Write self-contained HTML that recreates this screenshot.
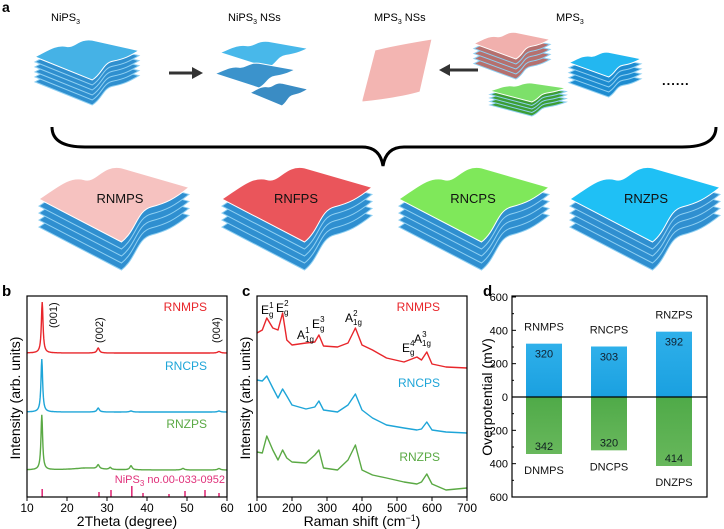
<!DOCTYPE html>
<html><head><meta charset="utf-8">
<style>
html,body{margin:0;padding:0;background:#fff;}
svg{display:block;font-family:"Liberation Sans",Arial,sans-serif;}
</style></head>
<body>
<svg id="fig" width="724" height="529" viewBox="0 0 724 529" xmlns="http://www.w3.org/2000/svg">
<defs>
  <linearGradient id="gBlue" x1="0" y1="0" x2="0" y2="1"><stop offset="0" stop-color="#2fb0ea"/><stop offset="1" stop-color="#1aa0e0"/></linearGradient>
  <linearGradient id="gGreen" x1="0" y1="0" x2="0" y2="1"><stop offset="0" stop-color="#4faa48"/><stop offset="1" stop-color="#68b85c"/></linearGradient>
</defs>
<g id="panelA"></g>
<text x="2" y="12" font-weight="bold" font-size="14">a</text>
<text x="51" y="21" font-size="11">NiPS<tspan font-size="7" dy="3">3</tspan></text>
<text x="228" y="21" font-size="11">NiPS<tspan font-size="7" dy="3">3</tspan><tspan dy="-3"> NSs</tspan></text>
<text x="374" y="21" font-size="11">MPS<tspan font-size="7" dy="3">3</tspan><tspan dy="-3"> NSs</tspan></text>
<text x="556" y="21" font-size="11">MPS<tspan font-size="7" dy="3">3</tspan></text>
<text x="662" y="85" font-size="13" font-weight="bold" letter-spacing="1">......</text>
<g><line x1="169" y1="73" x2="194" y2="73" stroke="#333" stroke-width="3"/><polygon points="192,67 203,73 192,79" fill="#333"/></g>
<g><line x1="478" y1="70" x2="448" y2="70" stroke="#333" stroke-width="3"/><polygon points="450,64 439,70 450,76" fill="#333"/></g>
<path d="M52,127 Q52,147 85,147 L362,147 Q380,147 383,166 Q386,147 404,147 L682,147 Q716,147 716,127" fill="none" stroke="#000" stroke-width="3"/>

<g id="panelB"></g>
<g id="panelC"></g>
<g id="panelD"></g>
</svg>
<script>
const NS="http://www.w3.org/2000/svg";
function mk(tag,attrs,parent){const e=document.createElementNS(NS,tag);for(const k in attrs)e.setAttribute(k,attrs[k]);if(parent)parent.appendChild(e);return e;}
function txt(parent,x,y,s,size,fill,anchor,extra){const t=mk('text',{x:x,y:y,'font-size':size,fill:fill||'#000','text-anchor':anchor||'start'},parent);if(extra)for(const k in extra)t.setAttribute(k,extra[k]);t.textContent=s;return t;}

/* ---------- Panel a: sheet stacks ---------- */
const A=document.getElementById('panelA');
function sheetPath(w,h){
  return `M0,${h*0.45} C${w*0.12},${h*0.3} ${w*0.2},${h*0.15} ${w*0.3},${h*0.2} C${w*0.38},${h*0.25} ${w*0.42},0 ${w*0.55},${h*0.05} L${w},${h*0.3} C${w*0.9},${h*0.45} ${w*0.85},${h*0.5} ${w*0.75},${h*0.55} C${w*0.65},${h*0.6} ${w*0.65},${h*0.85} ${w*0.55},${h} Z`;
}
function stack(x,y,w,h,n,gap,topColor,layerColor,name){
  const g=mk('g',{transform:`translate(${x},${y})`},A);
  
  
  for(let i=n-1;i>=0;i--){
    mk('path',{d:sheetPath(w,h),transform:`translate(0,${i*gap})`,fill:i===0?topColor:layerColor,stroke:i===0?'#ffffff':'#8fd0f2','stroke-width':1},g);
  }
  return g;
}
stack(35,38,104,42,6,5,'#45b2e6','#2f8fcf','stack-nips3');
stack(220,40,88,28,1,5,'#48b8ea','#2f8fcf','nanosheet-nips3-a');
stack(215,62,80,26,1,5,'#3b93cc','#2f8fcf','nanosheet-nips3-b');
stack(250,82,58,24,1,5,'#3a8cc4','#2f8fcf','nanosheet-nips3-c');
mk('path',{d:'M362,100 L375,50 Q395,45 432,39 L420,92 Q400,98 362,102 Z',fill:'#f3b5b2',stroke:'#fff','stroke-width':1},A);
stack(474,31,76,28,5,5,'#f1b0ad','#b5706e','stack-mps3-pink');
stack(490,82,76,20,5,3.5,'#7de06a','#3d9e35','stack-mps3-green');
stack(569,51,72,26,5,5,'#23b7f0','#1e8cd0','stack-mps3-blue');
const bottom=[[39,'#f6c2c0','stack-rnmps'],[222,'#ea555b','stack-rnfps'],[399,'#7fe85a','stack-rncps'],[570,'#1fc0f5','stack-rnzps']];
bottom.forEach(b=>stack(b[0],164,150,78,5,7,b[1],'#2f8fd0',b[2]));
[['RNMPS',120,'label-rnmps'],['RNFPS',296,'label-rnfps'],['RNCPS',473,'label-rncps'],['RNZPS',646,'label-rnzps']].forEach(l=>{
  const t=txt(A,l[1],203,l[0],13,'#111','middle');
  
  
});

/* ---------- Panel b: XRD ---------- */
const xrdSamples=['RNMPS','RNCPS','RNZPS'];
const xrdColors=['#e8262b','#1ea5d8','#5aa944'];
const xrdBaselinePx=[353,412,470];
const xrdPeakPos=[[13.8,27.8,58],[13.7,27.8,36,58],[13.7,25,27.8,30.8,36,49,58]];
const xrdPeakInt=[[51,5,1.5],[53,4,1,1],[55,2,4,2,4,1.5,1.5]];
const xrdPeakWid=[[0.25,0.35,0.4],[0.25,0.35,0.4,0.4],[0.25,4,0.35,0.3,0.35,0.4,0.4]];
const refPos=[13.8,28,31,36.2,39,45.5,49.5,54.5,58];
const refInt=[8,5,7,11,4,3,6,7,4];
const xrdTicks=[10,20,30,40,50,60];
const B=document.getElementById('panelB');
const bx=v=>27+(v-10)*(200/50);
xrdSamples.forEach((s,si)=>{
  let d='';
  for(let x=10;x<=60;x+=0.1){
    let yv=0;xrdPeakPos[si].forEach((p,k)=>{const w=xrdPeakWid[si][k];yv+=xrdPeakInt[si][k]/(1+((x-p)/w)**2);});
    d+=(d?'L':'M')+bx(x).toFixed(1)+','+(xrdBaselinePx[si]-yv).toFixed(1);
  }
  const p=mk('path',{d:d,fill:'none',stroke:xrdColors[si],'stroke-width':1.4},B);
  
  
  const t=txt(B,207,xrdBaselinePx[si]-42,s,12,xrdColors[si],'end');
  
  
});
refPos.forEach((p,i)=>{
  const l=mk('line',{x1:bx(p),x2:bx(p),y1:497,y2:497-refInt[i],stroke:'#e0307a','stroke-width':1.6},B);
  
  
});
{const t=txt(B,225,483,'',11,'#e0307a','end');t.innerHTML='NiPS<tspan font-size="8" dy="3">3</tspan><tspan dy="-3"> no.00-033-0952</tspan>';}
[['(001)',57,328],['(002)',103,343],['(004)',220,343]].forEach(a=>{
  const t=txt(B,a[1],a[2],a[0],11,'#111','start',{transform:`rotate(-90 ${a[1]} ${a[2]})`});
  
  
});
mk('rect',{x:27,y:296,width:200,height:201,fill:'none',stroke:'#000','stroke-width':1.2},B);
xrdTicks.forEach(v=>{
  mk('line',{x1:bx(v),x2:bx(v),y1:497,y2:501,stroke:'#000'},B);
  const t=txt(B,bx(v),512,String(v),12,'#000','middle');
  
  
});
{const t=txt(B,127,526,'2Theta (degree)',14,'#000','middle');
 const y=txt(B,20,398,'Intensity (arb. units)',14,'#000','middle',{transform:'rotate(-90 20 398)'});
 const l=txt(B,2,296,'b',15,'#000','start',{'font-weight':'bold'});}

/* ---------- Panel c: Raman ---------- */
const ramanSamples=['RNMPS','RNCPS','RNZPS'];
const ramanShift=[100,115,128,145,160,173,185,200,240,265,277,290,330,360,381,400,430,470,520,557,570,585,600,640,700];
const ramanRNMPS=[333,330,318,328,330,313,340,345,343,342,335,346,347,343,328,345,350,358,362,357,360,352,364,367,368];
const ramanRNCPS=[380,381,376,388,398,389,396,405,409,407,401,410,412,405,394,410,418,425,428,430,429,422,430,432,433];
const ramanRNZPS=[452,453,436,450,460,450,458,462,463,455,450,468,470,460,445,470,475,478,482,484,482,474,484,490,488];
const ramanColors=['#e8262b','#1ea5d8','#5aa944'];
const C=document.getElementById('panelC');
const cx=v=>257+(v-100)*(210/600);
[ramanRNMPS,ramanRNCPS,ramanRNZPS].forEach((arr,si)=>{
  const d=arr.map((y,i)=>(i?'L':'M')+cx(ramanShift[i]).toFixed(1)+','+y).join('');
  const p=mk('path',{d:d,fill:'none',stroke:ramanColors[si],'stroke-width':1.4,'stroke-linejoin':'round'},C);
  
  
});
[[440,311,'RNMPS'],[440,387,'RNCPS'],[440,461,'RNZPS']].forEach((l,i)=>{
  const t=txt(C,l[0],l[1],l[2],12,ramanColors[i],'end');
  
  
});
[['E','g','1',261,314],['E','g','2',276,312],['A','1g','1',297,339],['E','g','3',312,328],['A','1g','2',345,322],['E','g','4',402,352],['A','1g','3',414,343]].forEach(m=>{
  const t=mk('text',{x:m[3],y:m[4],'font-size':12},C);
  t.innerHTML=`${m[0]}<tspan font-size="8" dy="3">${m[1]}</tspan><tspan font-size="8" dx="-${(m[1].length*4.4).toFixed(1)}" dy="-9">${m[2]}</tspan>`;
  
  
});
mk('rect',{x:257,y:296,width:210,height:201,fill:'none',stroke:'#000','stroke-width':1.2},C);
[100,200,300,400,500,600,700].forEach(v=>{
  mk('line',{x1:cx(v),x2:cx(v),y1:497,y2:501,stroke:'#000'},C);
  const t=txt(C,cx(v),512,String(v),12,'#000','middle');
  
  
});
{const t=txt(C,362,526,'',14,'#000','middle');t.innerHTML='Raman shift (cm<tspan font-size="9" dy="-5">−1</tspan><tspan dy="5">)</tspan>';
 const y=txt(C,250,398,'Intensity (arb. units)',14,'#000','middle',{transform:'rotate(-90 250 398)'});
 const l=txt(C,242,296,'c',15,'#000','start',{'font-weight':'bold'});}

/* ---------- Panel d: overpotential ---------- */
const dCats=['NM','NC','NZ'];
const rLabels=['RNMPS','RNCPS','RNZPS'];
const dLabels=['DNMPS','DNCPS','DNZPS'];
const rValues=[320,303,392];
const dValues=[342,320,414];
const dTicks=[600,400,200,0,-200,-400,-600];
const D=document.getElementById('panelD');
const dy=v=>397-v*(100/600);
const dx=i=>544+i*65;
dCats.forEach((c,i)=>{
  const r=mk('rect',{x:dx(i)-18,y:dy(rValues[i]),width:36,height:dy(0)-dy(rValues[i]),fill:'url(#gBlue)'},D);
  
  
  const g=mk('rect',{x:dx(i)-18,y:dy(0),width:36,height:dy(-dValues[i])-dy(0),fill:'url(#gGreen)'},D);
  
  
  let t=txt(D,dx(i),dy(rValues[i])+14,String(rValues[i]),11,'#102030','middle');
  
  
  t=txt(D,dx(i),dy(-dValues[i])-4,String(dValues[i]),11,'#102020','middle');
  
  
  t=txt(D,dx(i),dy(rValues[i])-13,rLabels[i],11,'#111','middle');
  
  
  t=txt(D,dx(i),dy(-dValues[i])+20,dLabels[i],11,'#111','middle');
  
  
});
mk('line',{x1:512,x2:707,y1:dy(0),y2:dy(0),stroke:'#000','stroke-width':1.3},D);
mk('rect',{x:512,y:296,width:195,height:201,fill:'none',stroke:'#000','stroke-width':1.2},D);
dTicks.forEach(v=>{
  mk('line',{x1:512,x2:516,y1:dy(v),y2:dy(v),stroke:'#000'},D);
  if(v>-600) mk('line',{x1:512,x2:514,y1:dy(v-100),y2:dy(v-100),stroke:'#000'},D);
  const t=txt(D,508,dy(v)+4,String(Math.abs(v)),11,'#000','end');
  
  
});
{const y=txt(D,492,397,'Overpotential (mV)',14,'#000','middle',{transform:'rotate(-90 492 397)'});
 const l=txt(D,483,296,'d',15,'#000','start',{'font-weight':'bold'});}
</script>
</body></html>
